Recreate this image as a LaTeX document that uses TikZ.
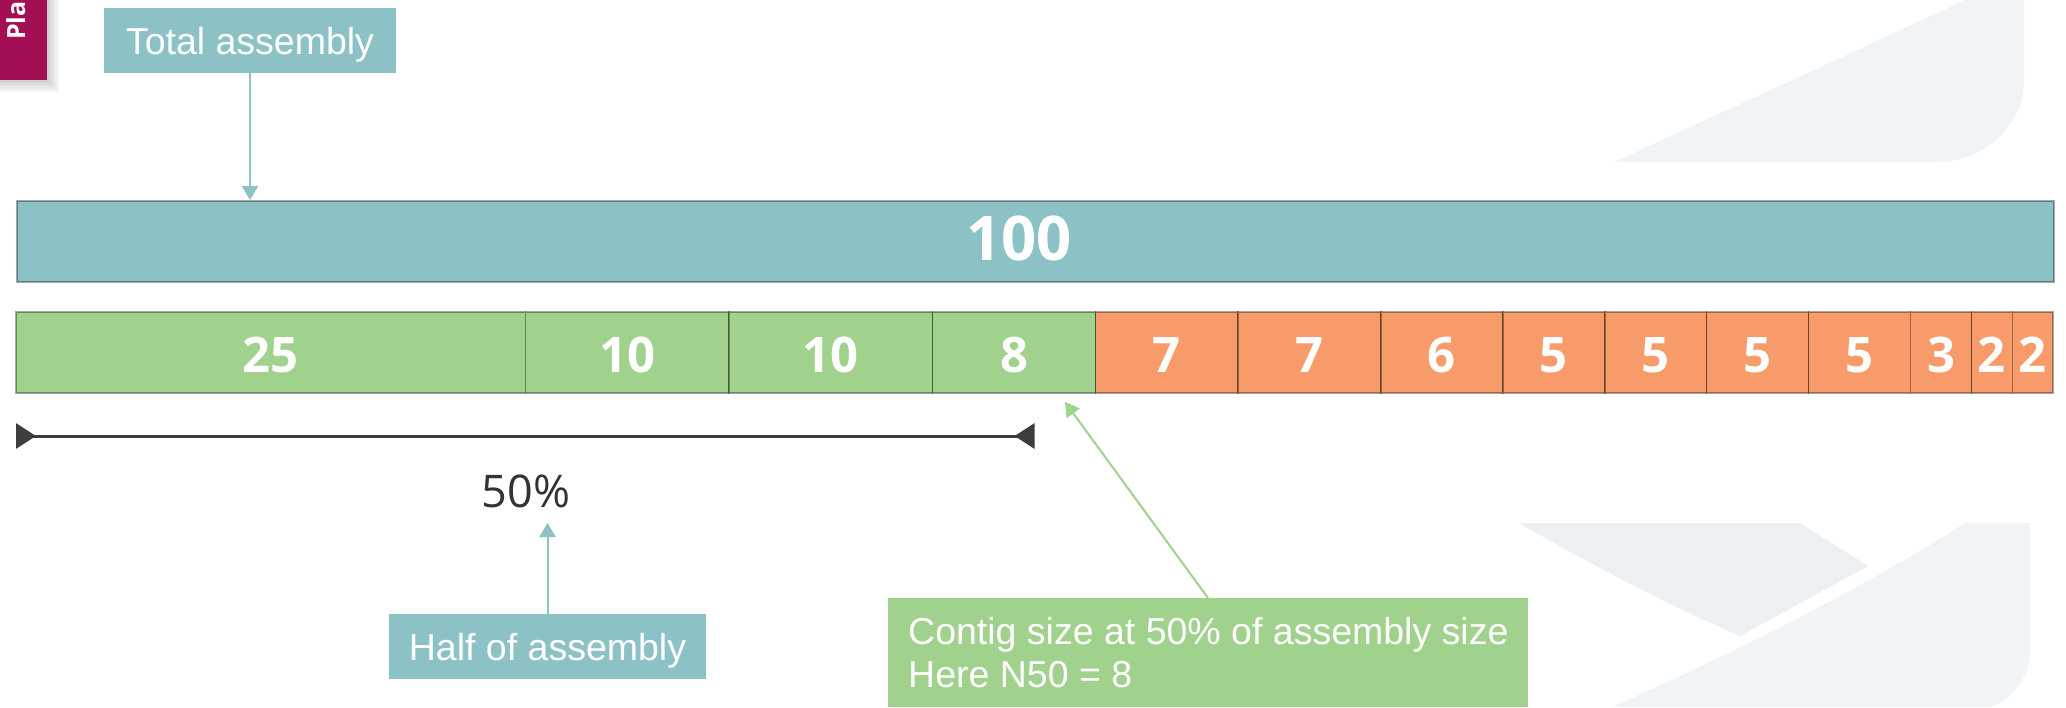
\documentclass[tikz,border=0pt]{standalone}
\usepackage{fontspec}
\setmainfont{Liberation Sans}
\newfontfamily\numfont{Open Sans}
\usetikzlibrary{arrows.meta,calc}

\definecolor{asmteal}{HTML}{8CC2C5}
\definecolor{asmgreen}{HTML}{A1D28D}
\definecolor{asmorange}{HTML}{F79B6A}
\definecolor{tabmag}{HTML}{A30E54}
\definecolor{dimgray}{HTML}{3D3D3D}
\definecolor{pcttext}{HTML}{333333}
\definecolor{swooshlight}{HTML}{F1F4F7}
\definecolor{swooshdark}{HTML}{ECF0F3}

\tikzset{
  dimtip/.tip={Triangle[reversed,length=20pt,width=25pt]},
  callouttip/.tip={Triangle[length=14pt,width=16pt]},
}

\begin{document}
\begin{tikzpicture}[x=1pt,y=-1pt,
  lbl/.style={fill=asmteal, text=white, inner sep=0pt,
    font=\fontsize{37.5}{43}\selectfont, text height=35pt, text depth=8pt},
  notebox/.style={fill=asmgreen, text=white, inner ysep=0pt, inner xsep=20pt,
    font=\fontsize{37.5}{43}\selectfont, align=left},
  barnum/.style={text=white, inner sep=0pt, anchor=base,
    font=\numfont\bfseries\fontsize{49}{49}\selectfont},
  segfill/.style={draw=black, draw opacity=0.35, line width=1.5pt},
  callout/.style={line width=2pt, -callouttip},
]
\useasboundingbox (0,0) rectangle (2066,707);
\fill[white] (0,0) rectangle (2066,707);

% faint background swooshes
\fill[swooshlight] (1614,162) .. controls (1760,95) and (1880,40) .. (1965,0)
  -- (2024,0) -- (2024,80) .. controls (2024,125) and (1985,162) .. (1935,162) -- cycle;
\fill[swooshlight] (1612,707) .. controls (1740,650) and (1860,590) .. (1965,523)
  -- (2030,523) -- (2030,650) .. controls (2030,680) and (2010,700) .. (1990,707) -- cycle;
\fill[swooshdark] (1519,523) .. controls (1600,570) and (1680,610) .. (1740,636)
  -- (1868,566) -- (1800,523) -- cycle;

% corner tab with soft shadow
\foreach \k in {1,...,8}
  \fill[black, opacity=0.025] (0,0) rectangle ({47+1.6*\k},{80+1.6*\k});
\fill[tabmag] (0,0) rectangle (47,80);
\begin{scope}
  \clip (0,0) rectangle (47,80);
  \node[rotate=90, anchor=base west, inner sep=0pt, text=white,
    font=\numfont\bfseries\fontsize{25}{25}\selectfont] (tabtext) at (25,40) {Pla};
\end{scope}

% whole assembly bar
\node[segfill, fill=asmteal, anchor=north west, inner sep=0pt,
  minimum width=2037pt, minimum height=81pt] (whole) at (16,200) {};
\node[barnum, font=\numfont\bfseries\fontsize{61.5}{61.5}\selectfont] (hundred) at (1019,260) {100};

% contig bar, widths proportional to contig sizes
\foreach \a/\b/\v/\c [count=\i] in {0/25/25/asmgreen, 25/35/10/asmgreen, 35/45/10/asmgreen,
    45/53/8/asmgreen, 53/60/7/asmorange, 60/67/7/asmorange, 67/73/6/asmorange,
    73/78/5/asmorange, 78/83/5/asmorange, 83/88/5/asmorange, 88/93/5/asmorange,
    93/96/3/asmorange, 96/98/2/asmorange, 98/100/2/asmorange} {
  \path[segfill, fill=\c] ({16+\a*20.37},312) rectangle ({16+\b*20.37},393);
  \node[barnum] (seg\i) at ({16+(\a+\b)*10.185},372) {\v};
}

% half-length dimension line
\coordinate (dimL) at (16,436);
\coordinate (dimR) at (1034.5,436);
\draw[line width=3pt, draw=dimgray, dimtip-dimtip] (dimL) -- (dimR);
\node[anchor=base, inner sep=0pt, text=pcttext,
  font=\numfont\fontsize{45}{45}\selectfont] (pct) at (526,507) {50\%};

% labels
\node[lbl, minimum width=292pt, minimum height=65pt] (total) at (250,40.5) {Total assembly};
\node[lbl, minimum width=317pt, minimum height=65pt] (half) at (547.5,646.5) {Half of assembly};
\node[notebox, anchor=north west, minimum width=640pt, minimum height=109pt]
  (contig) at (888,598) {Contig size at 50\% of assembly size\\Here N50 = 8};

% connectors
\coordinate (halftip) at (547.5,523);
\coordinate (n50tip) at (1065,402);
\draw[callout, draw=asmteal, fill=asmteal] (total.south) -- (total.south |- whole.north);
\draw[callout, draw=asmteal, fill=asmteal] (half.north) -- (halftip);
\draw[callout, draw=asmgreen, fill=asmgreen] ($(contig.north west)+(320,0)$) -- (n50tip);
\end{tikzpicture}
\end{document}
